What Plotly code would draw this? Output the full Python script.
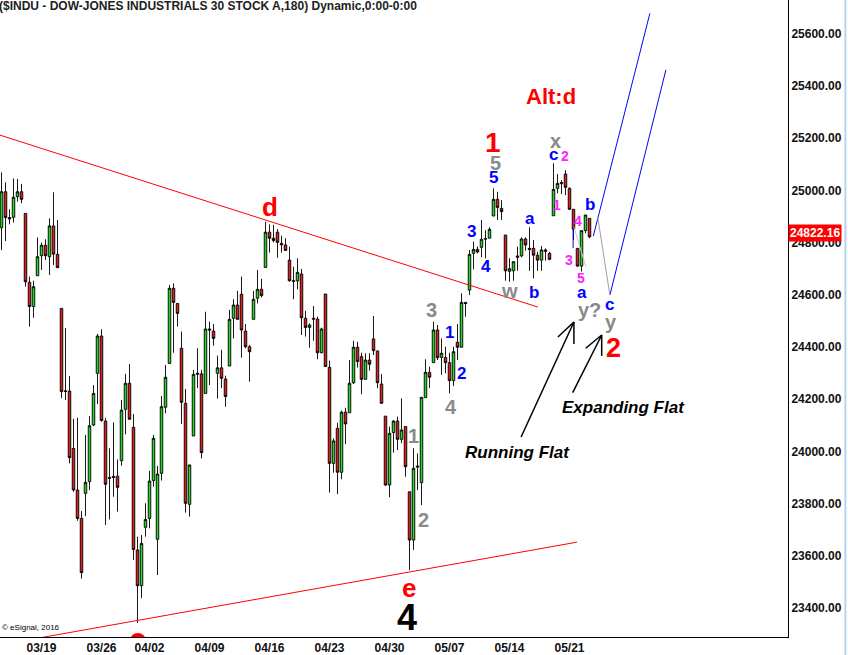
import plotly.graph_objects as go

# ---------------- data ----------------
bar_index = list(range(148))
opens = [24857, 24995, 24896, 24897, 24976, 24995, 24912, 24648, 24555, 24673,
         24750, 24790, 24746, 24864, 24755, 24548, 24232, 24231, 24011, 23852,
         23743, 23839, 23884, 24101, 24299, 24442, 24116, 23900, 23904, 23905,
         23964, 24161, 24261, 24092, 23622, 23485, 23709, 23743, 23888, 23663,
         23916, 24169, 24337, 24625, 24567, 24395, 24184, 23797, 24059, 24295,
         24297, 24222, 24469, 24461, 24299, 24320, 24277, 24327, 24510, 24561,
         24602, 24461, 24401, 24506, 24587, 24621, 24705, 24840, 24817, 24840,
         24797, 24791, 24733, 24654, 24653, 24680, 24510, 24475, 24510, 24507,
         24378, 24603, 24322, 23954, 24088, 23920, 24150, 24148, 24263, 24399,
         24363, 24276, 24350, 24431, 24385, 24258, 24135, 23871, 24072, 24116,
         24046, 24095, 23845, 23660, 23944, 23880, 24206, 24303, 24340, 24465,
         24360, 24360, 24340, 24271, 24418, 24399, 24571, 24618, 24759, 24774,
         24782, 24815, 24817, 24902, 24966, 24931, 24829, 24690, 24692, 24749,
         24749, 24814, 24778, 24778, 24752, 24733, 24772, 24759, 24903, 25008,
         25026, 25063, 25008, 24928, 24778, 24710, 24846, 24893]
highs = [25069, 25031, 24928, 25046, 25044, 25025, 24912, 24670, 24654, 24820,
         24800, 24813, 24893, 24993, 24887, 24548, 24473, 24289, 24125, 24129,
         23771, 24063, 24135, 24254, 24450, 24468, 24127, 24012, 24111, 23969,
         24197, 24297, 24335, 24143, 23673, 23679, 23801, 23925, 24063, 23944,
         24212, 24331, 24638, 24644, 24567, 24459, 24239, 23948, 24312, 24395,
         24312, 24535, 24497, 24488, 24367, 24389, 24290, 24542, 24583, 24615,
         24670, 24488, 24408, 24615, 24695, 24661, 24880, 24870, 24868, 24852,
         24827, 24817, 24785, 24708, 24740, 24699, 24539, 24491, 24557, 24516,
         24474, 24603, 24348, 24050, 24110, 24156, 24167, 24350, 24424, 24420,
         24378, 24376, 24376, 24519, 24385, 24296, 24135, 24095, 24120, 24133,
         24203, 24095, 23845, 24012, 23992, 24207, 24353, 24325, 24497, 24484,
         24433, 24401, 24378, 24401, 24488, 24606, 24571, 24772, 24804, 24785,
         24887, 24848, 24859, 25008, 24995, 24963, 24829, 24740, 24727, 24785,
         24820, 24820, 24859, 24810, 24765, 24787, 24778, 24765, 25104, 25063,
         25040, 25078, 25012, 24928, 24778, 24846, 24906, 24893]
lows = [24772, 24806, 24870, 24877, 24957, 24951, 24631, 24478, 24512, 24673,
        24695, 24733, 24676, 24714, 24704, 24204, 24197, 23954, 23845, 23734,
        23512, 23752, 23852, 24097, 24181, 24114, 23718, 23739, 23826, 23769,
        23945, 24065, 24123, 23584, 23343, 23437, 23673, 23705, 23865, 23526,
        23888, 24146, 24337, 24378, 24478, 24105, 23765, 23750, 24059, 24242,
        23973, 24222, 24254, 24405, 24202, 24242, 24171, 24327, 24433, 24506,
        24359, 24395, 24267, 24506, 24567, 24590, 24705, 24762, 24801, 24742,
        24762, 24770, 24650, 24583, 24621, 24446, 24440, 24397, 24424, 24353,
        24376, 24325, 23842, 23918, 23836, 23893, 24027, 24148, 24258, 24321,
        24219, 24276, 24309, 24369, 24242, 24184, 23868, 23824, 23995, 24005,
        24031, 23903, 23545, 23622, 23852, 23794, 24206, 24242, 24340, 24350,
        24293, 24299, 24222, 24250, 24350, 24399, 24516, 24599, 24698, 24759,
        24744, 24740, 24817, 24902, 24887, 24887, 24654, 24650, 24654, 24692,
        24744, 24769, 24692, 24663, 24692, 24692, 24731, 24733, 24903, 24989,
        24986, 24982, 24925, 24810, 24708, 24689, 24836, 24817]
closes = [24995, 24896, 24891, 24974, 24995, 24966, 24650, 24555, 24631, 24746,
          24790, 24750, 24864, 24756, 24704, 24229, 24230, 23976, 23852, 23743,
          23535, 23881, 24098, 24222, 24442, 24118, 23874, 23897, 23900, 23862,
          24158, 24261, 24123, 23624, 23485, 23647, 23739, 23886, 24050, 23913,
          24171, 24284, 24625, 24571, 24529, 24188, 23801, 23948, 24295, 24299,
          23995, 24469, 24465, 24433, 24320, 24280, 24210, 24506, 24561, 24506,
          24465, 24401, 24382, 24583, 24621, 24597, 24840, 24817, 24808, 24801,
          24792, 24770, 24654, 24652, 24686, 24512, 24475, 24484, 24507, 24378,
          24469, 24325, 23954, 24040, 23920, 24150, 24105, 24261, 24399, 24344,
          24276, 24350, 24334, 24386, 24263, 24184, 23871, 24069, 24116, 24046,
          24082, 23941, 23660, 23935, 23940, 24207, 24303, 24284, 24465, 24359,
          24376, 24340, 24271, 24382, 24399, 24571, 24567, 24755, 24774, 24764,
          24813, 24814, 24851, 24966, 24935, 24919, 24692, 24700, 24727, 24744,
          24814, 24791, 24774, 24752, 24733, 24772, 24767, 24736, 25004, 25027,
          25030, 25012, 24928, 24852, 24710, 24846, 24906, 24822.16]

tick_bars = [10, 25, 37, 52, 67, 82, 97, 112, 127, 142]
tick_labels = ["03/19", "03/26", "04/02", "04/09", "04/16", "04/23", "04/30",
               "05/07", "05/14", "05/21"]
price_ticks = [23400, 23600, 23800, 24000, 24200, 24400, 24600, 24800,
               25000, 25200, 25400, 25600]
last_price = 24822.16
title_text = "($INDU - DOW-JONES INDUSTRIALS 30 STOCK A,180) Dynamic,0:00-0:00"

FONT = "Liberation Sans, Arial, sans-serif"
RED = "#ff0000"
BLUE = "#0000ff"
GRAY = "#8a8a8a"
MAG = "#ff22ff"

fig = go.Figure()
fig.add_trace(go.Candlestick(
    x=bar_index, open=opens, high=highs, low=lows, close=closes,
    increasing=dict(line=dict(color="black", width=0.9), fillcolor="#22d822"),
    decreasing=dict(line=dict(color="black", width=0.9), fillcolor="#e01c1c"),
    whiskerwidth=0, showlegend=False, hoverinfo="skip"))

# cut-off red label under the 04/02 low
fig.add_trace(go.Scatter(x=[34.1], y=[23273], mode="markers", cliponaxis=True,
                         marker=dict(color=RED, size=16), showlegend=False,
                         hoverinfo="skip"))

# ---------------- labels ----------------
labels = [
    ("d", 67.1, 24937, RED, 26), ("e", 101.9, 23476, RED, 26),
    ("4", 101.4, 23365, "black", 36),
    ("1", 103.1, 24059, GRAY, 20), ("2", 105.4, 23737, GRAY, 20),
    ("3", 107.4, 24542, GRAY, 20), ("4", 112.4, 24170, GRAY, 20),
    ("1", 112.1, 24457, BLUE, 17), ("2", 115.1, 24300, BLUE, 17),
    ("3", 117.4, 24841, BLUE, 17), ("4", 121.1, 24710, BLUE, 17),
    ("5", 123.1, 25048, BLUE, 17), ("5", 123.4, 25105, GRAY, 20),
    ("1", 122.9, 25182, RED, 28), ("Alt:d", 137.4, 25362, RED, 22),
    ("x", 138.4, 25190, GRAY, 20), ("c", 137.9, 25136, BLUE, 17),
    ("2", 140.9, 25132, MAG, 14), ("1", 138.9, 24944, MAG, 14),
    ("a", 132.1, 24894, BLUE, 17), ("w", 126.9, 24615, GRAY, 20),
    ("b", 133.1, 24607, BLUE, 17), ("4", 144.1, 24883, MAG, 14),
    ("b", 147.1, 24948, BLUE, 17), ("3", 141.9, 24733, MAG, 14),
    ("5", 144.9, 24665, MAG, 14), ("a", 145.1, 24607, BLUE, 17),
    ("y?", 146.9, 24542, GRAY, 20), ("c", 152.1, 24561, BLUE, 17),
    ("y", 152.4, 24496, GRAY, 20), ("2", 152.9, 24396, RED, 27),
]
annotations = []
for txt, xv, yv, col, sz in labels:
    annotations.append(dict(text="<b>%s</b>" % txt, x=xv, y=yv, xref="x", yref="y",
                            showarrow=False, font=dict(family=FONT, size=sz, color=col)))
for txt, xv, yv in [("Running Flat", 129.1, 23994), ("Expanding Flat", 155.6, 24170)]:
    annotations.append(dict(text="<b><i>%s</i></b>" % txt, x=xv, y=yv, xref="x", yref="y",
                            showarrow=False, font=dict(family=FONT, size=17, color="black")))
annotations.append(dict(text="<b>%s</b>" % title_text, x=0, y=1, xref="paper", yref="paper",
                        xanchor="left", yanchor="top", xshift=-3, yshift=3, showarrow=False,
                        font=dict(family=FONT, size=12, color="#222222")))
annotations.append(dict(text="\u00a9 eSignal, 2016", x=0, y=23290, xref="paper", yref="y",
                        xanchor="left", yanchor="bottom", yshift=3, showarrow=False,
                        font=dict(family=FONT, size=8, color="black")))
annotations.append(dict(text="<b>%.2f</b>" % last_price, x=1, y=last_price, xref="paper", yref="y",
                        xanchor="left", yshift=4, showarrow=False, bgcolor=RED, borderpad=1,
                        font=dict(family=FONT, size=12, color="white")))

# ---------------- drawn lines ----------------
def seg(x0, y0, x1, y1, color, width=1):
    return dict(type="line", xref="x", yref="y", x0=x0, y0=y0, x1=x1, y1=y1,
                line=dict(color=color, width=width))

shapes = [
    seg(-0.375, 25212, 134.1, 24553, RED),
    seg(-0.375, 23258, 143.9, 23652, RED),
    seg(147.95, 24825, 162.1, 25679, BLUE),
    seg(152.1, 24599, 166.1, 25462, BLUE),
    seg(142.9, 24852, 142.9, 24779, BLUE),
    seg(149.1, 24894, 152.1, 24599, "#a0a0a0"),
    seg(143.1, 24860, 146.1, 24707, "#c8c8c8"),
    # arrows
    seg(129.9, 24055, 143.1, 24496, "black", 1.5),
    seg(139.1, 24438, 143.1, 24496, "black", 1.5),
    seg(143.1, 24411, 143.1, 24496, "black", 1.5),
    seg(142.8, 24225, 150.05, 24446, "black", 1.5),
    seg(146.05, 24395, 150.05, 24446, "black", 1.5),
    seg(150.05, 24366, 150.05, 24446, "black", 1.5),
    dict(type="line", xref="paper", yref="paper", x0=1.0728, x1=1.0728, y0=-0.03, y1=1,
         line=dict(color="#b8d4ec", width=2)),
]

fig.update_layout(
    width=848, height=655,
    margin=dict(l=0, r=60, t=0, b=18, autoexpand=False),
    paper_bgcolor="white", plot_bgcolor="white",
    showlegend=False,
    annotations=annotations, shapes=shapes,
    boxgap=0.1,
    xaxis=dict(range=[-0.375, 196.625], showgrid=False, zeroline=False, showline=True,
               linecolor="black", linewidth=1, tickvals=tick_bars, ticktext=tick_labels,
               ticks="", tickfont=dict(family=FONT, size=12, color="#111111"),
               rangeslider=dict(visible=False), automargin=False, fixedrange=True),
    yaxis=dict(range=[23288.4, 25730], side="right", showgrid=False, zeroline=False,
               showline=True, linecolor="black", linewidth=1, tickvals=price_ticks,
               tickformat=".2f", ticks="", tickfont=dict(family=FONT, size=12, color="#111111"),
               automargin=False, fixedrange=True),
)
fig.update_xaxes(tickfont=dict(weight="bold"))
fig.update_yaxes(tickfont=dict(weight="bold"))

fig.write_html("out.html", config={"displayModeBar": False},
               post_script="document.body.style.margin='0';document.body.style.overflow='hidden';")
